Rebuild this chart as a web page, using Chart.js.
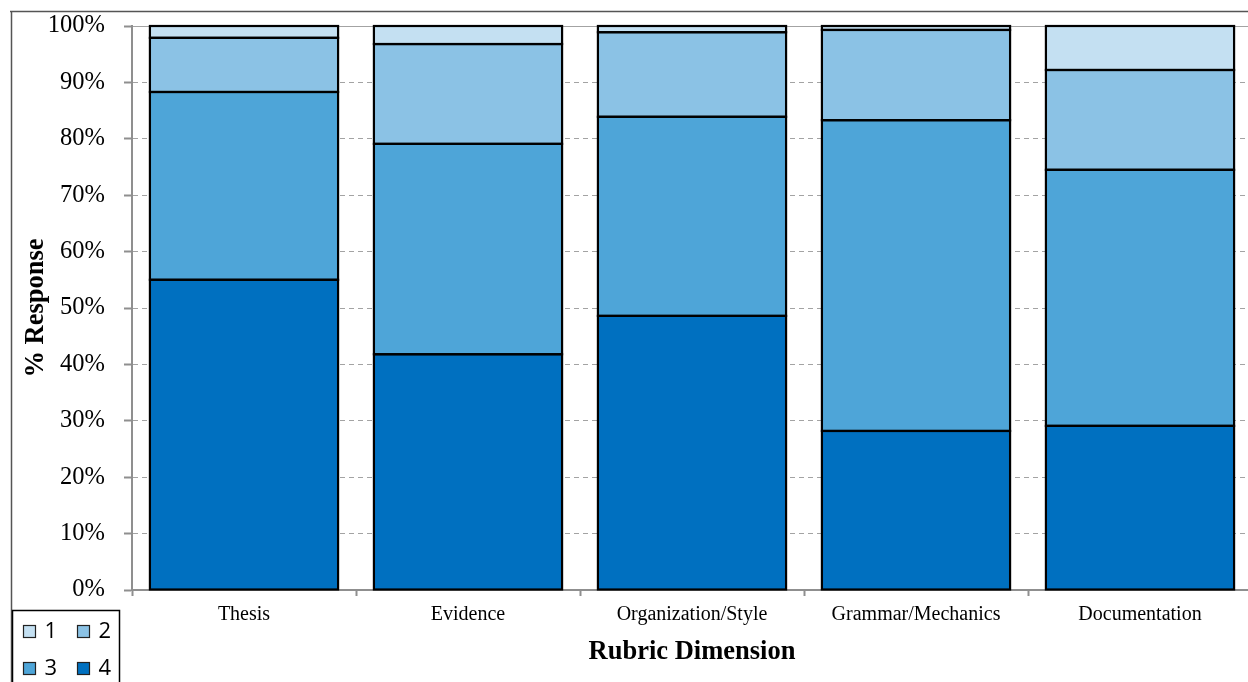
<!DOCTYPE html>
<html>
<head>
<meta charset="utf-8">
<script src="https://cdn.jsdelivr.net/npm/chart.js@4.4.1/dist/chart.umd.min.js"></script>
<style>
  html, body { margin: 0; padding: 0; background: #fff; overflow: hidden; }
</style>
</head>
<body>
<canvas id="grafik" width="1252" height="682"></canvas>
<script>
// ===== DATA =====
const dimensi = ["Thesis", "Evidence", "Organization/Style", "Grammar/Mechanics", "Documentation"];
const skor4 = [55.0, 41.8, 48.6, 28.2, 29.1];
const skor3 = [33.3, 37.3, 35.3, 55.1, 45.4];
const skor2 = [9.6, 17.7, 15.0, 16.0, 17.7];
const skor1 = [2.1, 3.2, 1.1, 0.7, 7.8];
const tickPersen = [0, 10, 20, 30, 40, 50, 60, 70, 80, 90, 100];

const warna = {"1": "#C4E0F2", "2": "#8BC2E5", "3": "#4EA5D8", "4": "#0070C0"};
const abuGaris = "#8f8f8f";
const serif = "'Liberation Serif', 'Times New Roman', serif";

// dataset urutan bawah ke atas: 4, 3, 2, 1
function buatDataset(label, data) {
  return {
    label: label,
    data: data,
    backgroundColor: warna[label],
    borderWidth: 0,
    barPercentage: 0.84,
    categoryPercentage: 1.0
  };
}

// ===== GARIS TEPI BATANG (satu garis bersama antar segmen) =====
const garisBatang = {
  id: "garisBatang",
  afterDatasetsDraw(chart) {
    const c = chart.ctx;
    c.save();
    c.strokeStyle = "#000";
    c.lineWidth = 2.2;
    chart.getSortedVisibleDatasetMetas().forEach(meta => {
      meta.data.forEach(el => {
        const p = el.getProps(["x", "y", "base", "width"], true);
        c.strokeRect(p.x - p.width / 2, p.y, p.width, p.base - p.y);
      });
    });
    c.restore();
  }
};

// ===== BINGKAI LUAR =====
const bingkai = {
  id: "bingkai",
  afterDraw(chart) {
    const c = chart.ctx;
    c.save();
    c.strokeStyle = "#555";
    c.lineWidth = 1.5;
    c.beginPath();
    c.moveTo(10, 11.5);
    c.lineTo(chart.width, 11.5);
    c.moveTo(11.5, 11);
    c.lineTo(11.5, chart.height);
    c.stroke();
    c.restore();
  }
};

// ===== LEGENDA KOTAK (2 kolom) =====
const legendaKotak = {
  id: "legendaKotak",
  afterDraw(chart) {
    const c = chart.ctx;
    const ds = chart.data.datasets.slice().sort((a, b) => a.label - b.label);
    c.save();
    c.fillStyle = "#fff";
    c.fillRect(12, 611, 107, 80);
    c.strokeStyle = "#000";
    c.lineWidth = 1.5;
    c.strokeRect(12.5, 610.5, 107, 80);
    c.font = "22px 'Open Sans', 'Liberation Sans', sans-serif";
    c.textBaseline = "middle";
    c.textAlign = "left";
    ds.forEach((d, i) => {
      const kol = i % 2, bar = Math.floor(i / 2);
      const x = 23.5 + kol * 54;
      const y = 625.5 + bar * 37;
      c.fillStyle = d.backgroundColor;
      c.fillRect(x, y, 12, 12);
      c.strokeStyle = "#222";
      c.lineWidth = 1.2;
      c.strokeRect(x, y, 12, 12);
      c.fillStyle = "#000";
      c.fillText(d.label, x + 21, y + 6);
    });
    c.restore();
  }
};

new Chart(document.getElementById("grafik"), {
  type: "bar",
  data: {
    labels: dimensi,
    datasets: [
      buatDataset("4", skor4),
      buatDataset("3", skor3),
      buatDataset("2", skor2),
      buatDataset("1", skor1)
    ]
  },
  options: {
    responsive: false,
    animation: false,
    layout: { padding: { top: 26, left: 0, right: 0, bottom: 0 } },
    plugins: {
      legend: { display: false },
      tooltip: { enabled: false }
    },
    scales: {
      x: {
        stacked: true,
        afterFit(s) { s.height = 92; },
        grid: {
          drawOnChartArea: false,
          drawTicks: true,
          tickLength: 6,
          tickColor: abuGaris,
          tickWidth: 2
        },
        border: { display: true, color: abuGaris, width: 2 },
        ticks: {
          color: "#000",
          padding: 7,
          maxRotation: 0,
          font: { family: serif, size: 20 }
        },
        title: {
          display: true,
          text: "Rubric Dimension",
          color: "#000",
          padding: { top: 0, bottom: 14 },
          font: { family: serif, size: 26.5, weight: "bold" }
        }
      },
      y: {
        stacked: true,
        min: 0,
        max: 100,
        afterFit(s) {
          s.width = 132;
          s.paddingTop = 0;
          s.paddingBottom = 0;
        },
        afterBuildTicks(s) { s.ticks = tickPersen.map(v => ({value: v})); },
        grid: {
          color: "#a3a3a3",
          lineWidth: 1,
          drawTicks: true,
          tickLength: 8,
          tickColor: abuGaris,
          tickWidth: 2,
          tickBorderDash: []
        },
        border: {
          display: true,
          color: abuGaris,
          width: 2,
          dash: ctx => (ctx.tick && ctx.tick.value === 100) ? [] : [5, 4]
        },
        ticks: {
          color: "#000",
          padding: 19,
          callback: v => v + "%",
          font: { family: serif, size: 24.5 }
        },
        title: {
          display: true,
          text: "% Response",
          color: "#000",
          padding: { top: 20, bottom: 0 },
          font: { family: serif, size: 26.5, weight: "bold" }
        }
      }
    }
  },
  plugins: [garisBatang, bingkai, legendaKotak]
});
</script>
</body>
</html>
